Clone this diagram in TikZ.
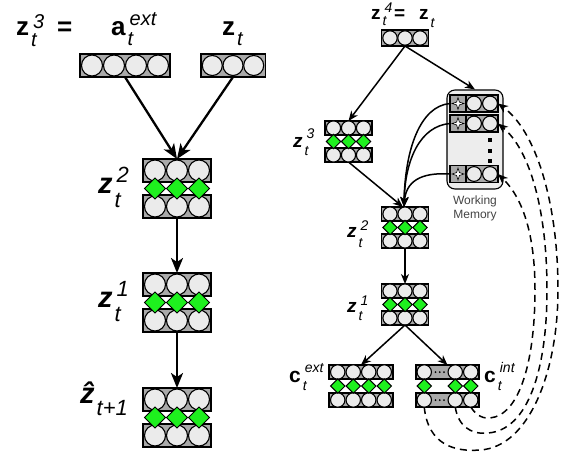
\documentclass[tikz,border=0pt]{standalone}
\usepackage{fontspec}
\setmainfont{Liberation Sans}
\usetikzlibrary{arrows.meta}
\definecolor{bargray}{HTML}{A9A9A9}
\definecolor{cellfill}{HTML}{EBEBEB}
\definecolor{gemgreen}{HTML}{1EF01E}
\definecolor{wmfill}{HTML}{EDEDED}
\definecolor{wmtext}{HTML}{444444}

% symbol with stacked super/subscript:
% #1 main size, #2 script size, #3 raise, #4 drop, #5 main glyph, #6 sup, #7 sub
\newcommand{\symb}[7]{{\fontsize{#1}{#1}\selectfont\bfseries #5}\kern2pt{\fontsize{#2}{#2}\selectfont\itshape\rlap{\kern2pt\raisebox{#3}{#6}}\raisebox{-#4}{#7}}}

% one bar of n round cells: #1 x, #2 y, #3 n, #4 pitch, #5 bar height, #6 cell radius
\newcommand{\cellrow}[6]{%
  \draw[barstyle] ({#1-#3*#4/2-1},{#2-#5/2}) rectangle ({#1+#3*#4/2+1},{#2+#5/2});
  \foreach \k in {1,...,#3}{\draw[cellstyle] ({#1+(\k-(#3+1)/2)*#4},#2) circle[radius=#6];}}

% row of green diamonds: #1 x, #2 y, #3 n, #4 pitch, #5 half size
\newcommand{\gemrow}[5]{%
  \foreach \k in {1,...,#3}{%
    \pgfmathsetmacro\gx{#1+(\k-(#3+1)/2)*#4}
    \draw[gemstyle] (\gx,{#2-#5}) -- ({\gx+#5},#2) -- (\gx,{#2+#5}) -- ({\gx-#5},#2) -- cycle;}}

% two cell bars with diamonds between: #1 name, #2 x, #3 y, #4 n, #5 pitch,
% #6 bar height, #7 radius, #8 total height, #9 diamond half size
\newcommand{\layerstack}[9]{%
  \node[frame, minimum width={#4*#5+2pt}, minimum height={#8*1pt}] (#1) at (#2,#3) {};
  \cellrow{#2}{#3-#8/2+#6/2}{#4}{#5}{#6}{#7}
  \cellrow{#2}{#3+#8/2-#6/2}{#4}{#5}{#6}{#7}
  \gemrow{#2}{#3}{#4}{#5}{#9}}

% single bar with a name: #1 name, #2 x, #3 y, #4 n, #5 pitch, #6 height, #7 radius
\newcommand{\namedrow}[7]{%
  \node[frame, minimum width={#4*#5+2pt}, minimum height={#6*1pt}] (#1) at (#2,#3) {};
  \cellrow{#2}{#3}{#4}{#5}{#6}{#7}}

% working-memory slot: #1 name, #2 y
\newcommand{\memslot}[2]{%
  \node[frame, minimum width=48pt, minimum height=17pt] (#1) at (474,#2) {};
  \draw[barstyle] (450,{#2-8.5}) rectangle (466,{#2+8.5});
  \draw[fill=white, line width=0.6pt] (458,{#2-6}) -- (459.4,{#2-1.4}) -- (464,#2) -- (459.4,{#2+1.4})
     -- (458,{#2+6}) -- (456.6,{#2+1.4}) -- (452,#2) -- (456.6,{#2-1.4}) -- cycle;
  \draw[barstyle] (466,{#2-8.5}) rectangle (498,{#2+8.5});
  \draw[cellstyle] (474,#2) circle[radius=7.4];
  \draw[cellstyle] (490,#2) circle[radius=7.4];}

\begin{document}
\begin{tikzpicture}[x=1pt,y=-1pt,
  barstyle/.style={draw=black, fill=bargray, line width=1.1pt},
  cellstyle/.style={draw=black, fill=cellfill, line width=1.1pt},
  gemstyle/.style={draw=black, fill=gemgreen, line width=1pt, line join=miter},
  frame/.style={inner sep=0pt, outer sep=0pt, draw=none},
  bigarrow/.style={line width=2.3pt, -{Stealth[length=15pt,width=12pt,inset=4pt]}},
  arrow/.style={line width=1.5pt, -{Stealth[length=10pt,width=8pt,inset=3pt]}},
  memarrow/.style={line width=1.5pt, dash pattern=on 7pt off 5pt, -{Stealth[length=10pt,width=8pt,inset=3pt]}},
  lbl/.style={inner sep=0pt, anchor=base west},
]
\useasboundingbox (0,0) rectangle (568,459);

% ---------------- left column ----------------
\namedrow{aext}{125}{65.5}{4}{22}{23}{10.5}
\namedrow{zt}{233}{65.5}{3}{20.7}{23}{10}
\layerstack{L2}{177}{188.5}{3}{22}{23}{10.5}{59}{10.5}
\layerstack{L1}{177}{302.5}{3}{22}{23}{10.5}{59}{10.5}
\layerstack{Lh}{177}{417.5}{3}{22}{23}{10.5}{59}{10.5}

\draw[bigarrow] (aext.south) -- (L2.north);
\draw[bigarrow] (zt.south) -- (L2.north);
\draw[bigarrow] (L2.south) -- (L1.north);
\draw[bigarrow] (L1.south) -- (Lh.north);

\node[lbl] (labz3) at (16,35) {\symb{26}{20}{7pt}{11pt}{z}{3}{t}};
\node[lbl] (labeq) at (57,35) {\fontsize{26}{26}\selectfont\bfseries =};
\node[lbl] (labaext) at (111,35) {\symb{26}{20}{10pt}{10pt}{a}{ext}{t}};
\node[lbl] (labzt) at (222,35) {\symb{26}{20}{10pt}{10pt}{z}{}{t}};
\node[lbl] (labL2) at (98,193) {\symb{29}{22}{11pt}{14pt}{\itshape z}{2}{t}};
\node[lbl] (labL1) at (98,307) {\symb{29}{22}{11pt}{14pt}{\itshape z}{1}{t}};
\node[lbl] (labLh) at (80,403) {\symb{29}{22}{11pt}{12pt}{\itshape \^{z}}{}{t+1}};

% ---------------- right column ----------------
\namedrow{r4}{405}{38}{3}{15}{16}{7.2}
\layerstack{r3}{348.5}{141.5}{3}{15}{14}{7.1}{41}{7.2}
\layerstack{r2}{405}{227.5}{3}{15}{14}{7.1}{41}{7.2}
\layerstack{r1}{405}{304.5}{3}{15}{14}{7.1}{41}{7.2}
\layerstack{cext}{361}{386}{4}{15.5}{14}{7.2}{42}{7.2}

% internal context: cells 1, 3, 4 shown, the rest elided
\node[frame, minimum width=64pt, minimum height=42pt] (cint) at (447.5,386) {};
\draw[barstyle] (416,365) rectangle (479,379);
\draw[barstyle] (416,393) rectangle (479,407);
\foreach \yy in {372,400}{
  \foreach \xx in {424.25,455.25,470.75}{\draw[cellstyle] (\xx,\yy) circle[radius=7.2];}
  \foreach \xx in {435.5,439.75,444}{\fill (\xx,\yy) circle[radius=1];}
}
\foreach \xx in {424.25,455.25,470.75}{
  \draw[gemstyle] (\xx,378.8) -- (\xx+7.2,386) -- (\xx,393.2) -- (\xx-7.2,386) -- cycle;}
\coordinate (ci1) at (424.25,407);
\coordinate (ci3) at (455.25,407);
\coordinate (ci4) at (470.75,407);

% working memory
\node[draw, fill=wmfill, rounded corners=8pt, minimum width=56pt, minimum height=99pt, line width=1.1pt, inner sep=0pt] (wm) at (475,139.5) {};
\memslot{m1}{103.5}
\memslot{m2}{123.5}
\memslot{m3}{174}
\foreach \yy in {140,150.5,161}{\fill (488,\yy-2) rectangle (492,\yy+2);}
\node[align=center, font=\fontsize{12}{14}\selectfont, text=wmtext, inner sep=0pt] (wmlabel) at (475,208) {Working\\Memory};

% feed-forward arrows
\draw[arrow] (r4.south) -- (r3.north);
\draw[arrow] (r4.south) -- (wm.north);
\draw[arrow] (r3.south) -- ([xshift=-2pt]r2.north);
\draw[arrow] (m1.west) .. controls (420,106) and (405,150) .. ([xshift=-1pt]r2.north);
\draw[arrow] (m2.west) .. controls (420,126) and (405,160) .. ([xshift=-1pt]r2.north);
\draw[arrow] (m3.west) .. controls (420,172) and (406,182) .. ([xshift=-1pt]r2.north);
\draw[arrow] (r2.south) -- (r1.north);
\draw[arrow] (r1.south) -- (cext.north);
\draw[arrow] (r1.south) -- (cint.north);

% write-back into memory
\draw[memarrow] (ci1) .. controls (428,445) and (455,452) .. (480,450)
   .. controls (530,447) and (558,370) .. (558,290)
   .. controls (558,200) and (535,130) .. (m1.east);
\draw[memarrow] (ci3) .. controls (458,425) and (470,435) .. (488,433)
   .. controls (528,430) and (547,370) .. (547,290)
   .. controls (547,210) and (530,150) .. (m2.east);
\draw[memarrow] (ci4) .. controls (474,412) and (480,419) .. (490,418)
   .. controls (520,415) and (535,360) .. (535,290)
   .. controls (535,240) and (525,200) .. (m3.east);

% labels
\node[lbl] (labr4) at (371,19) {\symb{19}{14}{7pt}{6pt}{z}{4}{t}};
\node[lbl] (labr4eq) at (394,19) {\fontsize{19}{19}\selectfont\bfseries =};
\node[lbl] (labr4z) at (419,19) {\symb{19}{14}{7pt}{8pt}{z}{}{t}};
\node[lbl] (labr3) at (293,147) {\symb{19}{14}{9pt}{8pt}{\itshape z}{3}{t}};
\node[lbl] (labr2) at (347,237) {\symb{19}{14}{7pt}{10pt}{\itshape z}{2}{t}};
\node[lbl] (labr1) at (347,312) {\symb{19}{14}{7pt}{8pt}{\itshape z}{1}{t}};
\node[lbl] (labcext) at (289,382) {\symb{21}{14}{10pt}{8pt}{c}{ext}{t}};
\node[lbl] (labcint) at (484,382) {\symb{21}{14}{10pt}{8pt}{c}{int}{t}};
\end{tikzpicture}
\end{document}
